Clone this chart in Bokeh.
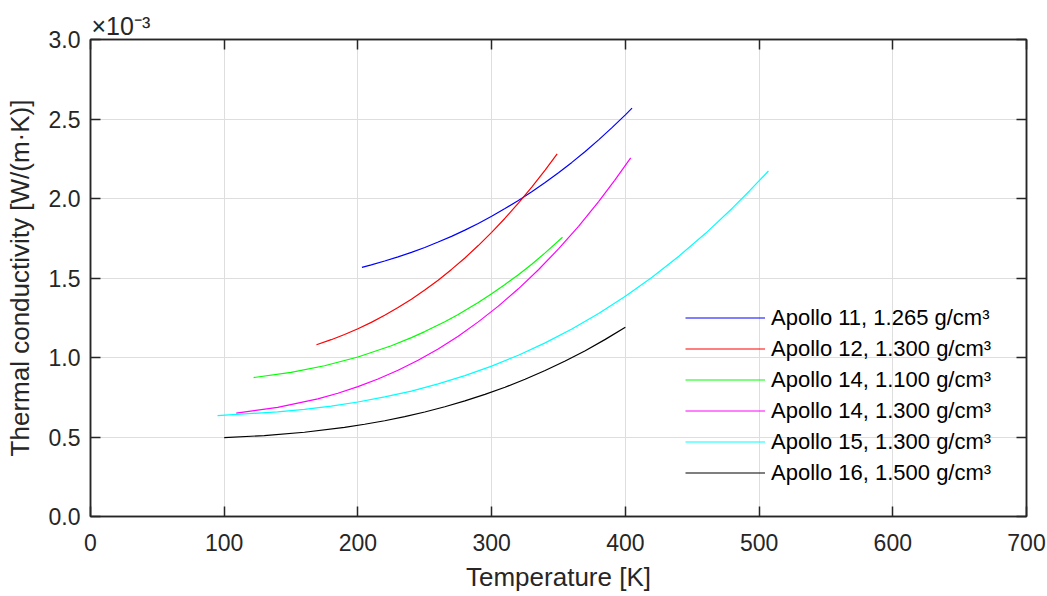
from bokeh.plotting import figure
from bokeh.models import (Range1d, LinearAxis, Legend, LegendItem,
                          FixedTicker, CustomJSTickFormatter, NumeralTickFormatter)
from bokeh.embed import file_html
from bokeh.resources import INLINE

# Temperatures [K] and thermal conductivity [x 1e-3 W/(m.K)]
t_a11 = [203, 210, 220, 230, 240, 250, 260, 270, 280, 290, 300, 310, 320, 330,
         340, 350, 360, 370, 380, 390, 400, 405]
k_a11 = [1.567, 1.583, 1.607, 1.633, 1.661, 1.692, 1.726, 1.762, 1.801, 1.843,
         1.888, 1.937, 1.988, 2.043, 2.101, 2.162, 2.227, 2.296, 2.369, 2.446,
         2.526, 2.568]

t_a12 = [169, 180, 190, 200, 210, 220, 230, 240, 250, 260, 270, 280, 290, 300,
         310, 320, 330, 340, 349]
k_a12 = [1.080, 1.112, 1.145, 1.181, 1.221, 1.266, 1.314, 1.367, 1.424, 1.486,
         1.554, 1.626, 1.704, 1.787, 1.876, 1.971, 2.072, 2.179, 2.281]

t_a14a = [122, 150, 175, 200, 225, 240, 250, 265, 275, 290, 300, 310, 320, 330,
          340, 353]
k_a14a = [0.874, 0.907, 0.948, 1.003, 1.074, 1.125, 1.163, 1.225, 1.271, 1.346,
          1.401, 1.459, 1.521, 1.587, 1.658, 1.756]

t_a14b = [109, 140, 170, 185, 200, 215, 230, 245, 260, 275, 290, 305, 320, 335,
          350, 365, 380, 392, 404]
k_a14b = [0.650, 0.686, 0.740, 0.775, 0.817, 0.865, 0.920, 0.983, 1.054, 1.134,
          1.224, 1.323, 1.432, 1.552, 1.683, 1.825, 1.981, 2.114, 2.255]

t_a15 = [95, 140, 160, 180, 200, 220, 240, 260, 280, 300, 320, 340, 360, 380,
         400, 420, 440, 460, 480, 493, 507]
k_a15 = [0.635, 0.658, 0.674, 0.694, 0.720, 0.752, 0.789, 0.834, 0.886, 0.946,
         1.014, 1.092, 1.179, 1.277, 1.385, 1.505, 1.637, 1.781, 1.939, 2.049,
         2.173]

t_a16 = [100, 130, 160, 190, 205, 220, 235, 250, 265, 280, 295, 310, 325, 340,
         355, 370, 385, 400]
k_a16 = [0.496, 0.509, 0.530, 0.561, 0.580, 0.602, 0.628, 0.657, 0.690, 0.727,
         0.768, 0.813, 0.863, 0.918, 0.978, 1.043, 1.114, 1.190]

series_names = ["Apollo 11, 1.265 g/cm³", "Apollo 12, 1.300 g/cm³",
                "Apollo 14, 1.100 g/cm³", "Apollo 14, 1.300 g/cm³",
                "Apollo 15, 1.300 g/cm³", "Apollo 16, 1.500 g/cm³"]
series_colors = ["#0000ff", "#ff0000", "#00ff00", "#ff00ff", "#00ffff", "#000000"]

x_ticks = [0, 100, 200, 300, 400, 500, 600, 700]
y_ticks = [0.0, 0.5, 1.0, 1.5, 2.0, 2.5, 3.0]
scale_note = "×10⁻³"

FONT = "Liberation Sans"
AX = "#262626"

p = figure(width=1047, height=596, output_backend="svg", toolbar_location=None,
           x_range=Range1d(0, 700), y_range=Range1d(0, 3.0),
           title=scale_note,
           min_border_left=90, min_border_right=21, min_border_top=39,
           min_border_bottom=80, background_fill_color="white",
           border_fill_color="white")
p.outline_line_color = AX
p.outline_line_width = 1.5

p.title.align = "left"
p.title.text_font = FONT
p.title.text_font_size = "25px"
p.title.text_font_style = "normal"
p.title.text_color = AX
p.title.offset = 1
p.title.standoff = 0

for ax in (p.xaxis[0], p.yaxis[0]):
    ax.major_label_text_font = FONT
    ax.major_label_text_font_size = "23px"
    ax.major_label_text_color = AX
    ax.axis_label_text_font = FONT
    ax.axis_label_text_font_size = "26px"
    ax.axis_label_text_font_style = "normal"
    ax.axis_label_text_color = AX
    ax.axis_line_color = AX
    ax.axis_line_width = 1.5
    ax.major_tick_line_color = AX
    ax.major_tick_line_width = 1.5
    ax.major_tick_in = 10
    ax.major_tick_out = 0
    ax.minor_tick_line_color = None

p.xaxis[0].ticker = FixedTicker(ticks=x_ticks)
p.yaxis[0].ticker = FixedTicker(ticks=y_ticks)
p.yaxis[0].formatter = NumeralTickFormatter(format="0.0")
p.xaxis[0].axis_label = "Temperature [K]"
p.yaxis[0].axis_label = "Thermal conductivity [W/(m·K)]"
p.xaxis[0].major_label_standoff = 17
p.yaxis[0].major_label_standoff = 10
p.xaxis[0].axis_label_standoff = 8
p.yaxis[0].axis_label_standoff = 11

blank = CustomJSTickFormatter(code="return ''")
right = LinearAxis(ticker=FixedTicker(ticks=y_ticks), formatter=blank,
                   axis_line_color=AX, axis_line_width=1.5,
                   major_tick_line_color=AX, major_tick_line_width=1.5,
                   major_tick_in=10, major_tick_out=0, minor_tick_line_color=None,
                   major_label_standoff=0)
top = LinearAxis(ticker=FixedTicker(ticks=x_ticks), formatter=blank,
                 axis_line_color=AX, axis_line_width=1.5,
                 major_tick_line_color=AX, major_tick_line_width=1.5,
                 major_tick_in=10, major_tick_out=0, minor_tick_line_color=None,
                 major_label_standoff=0)
p.add_layout(right, "right")
p.add_layout(top, "above")

p.xgrid.ticker = FixedTicker(ticks=x_ticks)
p.ygrid.ticker = FixedTicker(ticks=y_ticks)
for g in (p.xgrid[0], p.ygrid[0]):
    g.grid_line_color = "#dedede"
    g.grid_line_width = 1

data = [(t_a11, k_a11), (t_a12, k_a12), (t_a14a, k_a14a),
        (t_a14b, k_a14b), (t_a15, k_a15), (t_a16, k_a16)]
items = []
for (t, k), name, col in zip(data, series_names, series_colors):
    r = p.line(t, k, line_color=col, line_width=1.2)
    items.append(LegendItem(label=name, renderers=[r]))

legend = Legend(items=items, location=(595, 28), margin=0, padding=0,
                border_line_color=None, background_fill_alpha=0,
                glyph_width=80, glyph_height=31, label_height=31, spacing=0,
                label_standoff=6, label_text_font=FONT,
                label_text_font_size="22px", label_text_color="#000000")
p.add_layout(legend, "center")

open("out.html", "w").write(file_html(p, INLINE))
